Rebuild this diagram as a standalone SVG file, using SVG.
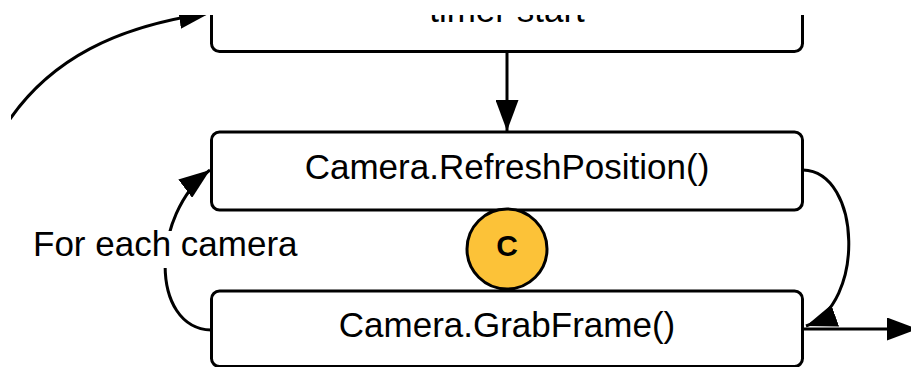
<svg xmlns="http://www.w3.org/2000/svg" width="911" height="367" viewBox="0 0 911 367">
  <style>
    .box { fill: #ffffff; stroke: #000000; stroke-width: 3; }
    .lbl { font-family: "Liberation Sans", Arial, sans-serif; font-size: 35px; fill: #000000; }
    .mid { text-anchor: middle; }
    .link { fill: none; stroke: #000000; stroke-width: 3; }
    .badge { fill: #fcc238; stroke: #000000; stroke-width: 3; }
    .badge-text { font-family: "Liberation Sans", Arial, sans-serif; font-size: 30px; font-weight: bold; fill: #000000; text-anchor: middle; }
  </style>
  <defs>
    <marker id="arrow" markerUnits="userSpaceOnUse" markerWidth="31" markerHeight="23" refX="31" refY="11.5" orient="auto" viewBox="0 0 31 23">
      <path d="M0,0 L31,11.5 L0,23 Z" fill="#000000"/>
    </marker>
    <clipPath id="frame">
      <rect x="11" y="15" width="900" height="352"/>
    </clipPath>
  </defs>
  <rect width="911" height="367" fill="#ffffff"/>
  <g clip-path="url(#frame)">
    <g id="connectors">
      <!-- incoming edge into the timer step -->
      <path class="link" d="M -2 138 C 45 55, 125 25, 210 13" marker-end="url(#arrow)"/>
      <!-- timer start to refresh -->
      <path class="link" d="M 507 52 L 507 131" marker-end="url(#arrow)"/>
      <!-- per-camera loop back to refresh -->
      <path class="link" d="M 211 330 C 150 328, 150 215, 210 170" marker-end="url(#arrow)"/>
      <!-- refresh to grab frame -->
      <path class="link" d="M 803 170 C 862 172, 865 305, 806 326" marker-end="url(#arrow)"/>
      <!-- exit edge -->
      <path class="link" d="M 803 329 L 918 329" marker-end="url(#arrow)"/>
      <rect x="28" y="231" width="274" height="37" fill="#ffffff"/>
      <text class="lbl" x="33" y="256">For each camera</text>
    </g>
    <g id="timer-start">
      <rect class="box" x="211.5" y="-40" width="591" height="91.5" rx="8"/>
      <text class="lbl mid" x="507" y="22">timer start</text>
    </g>
    <g id="refresh-position">
      <rect class="box" x="211.5" y="132" width="591" height="78" rx="8"/>
      <text class="lbl mid" x="507" y="179">Camera.RefreshPosition()</text>
    </g>
    <g id="grab-frame">
      <rect class="box" x="211.5" y="291" width="591" height="75.5" rx="8"/>
      <text class="lbl mid" x="507" y="337">Camera.GrabFrame()</text>
    </g>
    <g id="badge-c">
      <circle class="badge" cx="507" cy="249" r="40"/>
      <text class="badge-text" x="507" y="256">C</text>
    </g>
  </g>
</svg>
